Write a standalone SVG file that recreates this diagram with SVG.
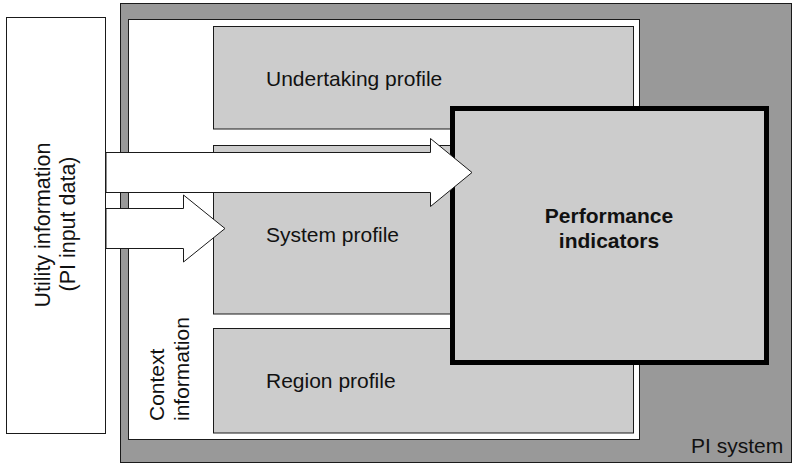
<svg xmlns="http://www.w3.org/2000/svg" width="793" height="464" viewBox="0 0 793 464">
  <style>
    .box { stroke: #1a1a1a; stroke-width: 1; }
    .sys { fill: #999999; }
    .ctx { fill: #ffffff; }
    .prof { fill: #cccccc; }
    .pi { fill: #cccccc; stroke: #000000; stroke-width: 5; }
    .arrow { fill: #ffffff; stroke: #1a1a1a; stroke-width: 1; stroke-linejoin: miter; }
    text { font-family: "Liberation Sans", Arial, Helvetica, sans-serif; font-size: 21px; fill: #111111; }
    .big { font-size: 21.5px; }
    .bold { font-weight: bold; }
  </style>
  <rect x="0" y="0" width="793" height="464" fill="#ffffff"/>
  <g id="pi-system">
    <rect class="box sys" x="120.5" y="3.5" width="671" height="459"/>
    <text x="691" y="453">PI system</text>
  </g>
  <g id="utility-information">
    <rect class="box ctx" x="6.5" y="17.5" width="99" height="416"/>
    <text class="big" transform="translate(50,225) rotate(-90)" text-anchor="middle">Utility information</text>
    <text class="big" transform="translate(75,224) rotate(-90)" text-anchor="middle">(PI input data)</text>
  </g>
  <g id="context-information">
    <rect class="box ctx" x="128.5" y="19.5" width="511" height="420"/>
    <text transform="translate(164,421) rotate(-90)">Context</text>
    <text transform="translate(189,421) rotate(-90)">information</text>
  </g>
  <g id="undertaking-profile">
    <rect class="box prof" x="213.5" y="26.5" width="420" height="102.5"/>
    <text x="266" y="86">Undertaking profile</text>
  </g>
  <g id="system-profile">
    <rect class="box prof" x="213.5" y="145.5" width="420" height="168.5"/>
    <text x="266" y="242">System profile</text>
  </g>
  <g id="region-profile">
    <rect class="box prof" x="213.5" y="328.5" width="420" height="104.5"/>
    <text x="266" y="388">Region profile</text>
  </g>
  <g id="performance-indicators">
    <rect class="pi" x="452.5" y="108.5" width="314" height="254"/>
    <text class="bold" x="609" y="223" text-anchor="middle">Performance</text>
    <text class="bold" x="609" y="248" text-anchor="middle">indicators</text>
  </g>
  <g id="connectors">
    <polygon class="arrow" points="106,152.5 430.5,152.5 430.5,138.5 472,172.5 430.5,206.5 430.5,192.5 106,192.5"/>
    <polygon class="arrow" points="106,208.5 183.5,208.5 183.5,195 225,228.5 183.5,262 183.5,248.5 106,248.5"/>
  </g>
</svg>
